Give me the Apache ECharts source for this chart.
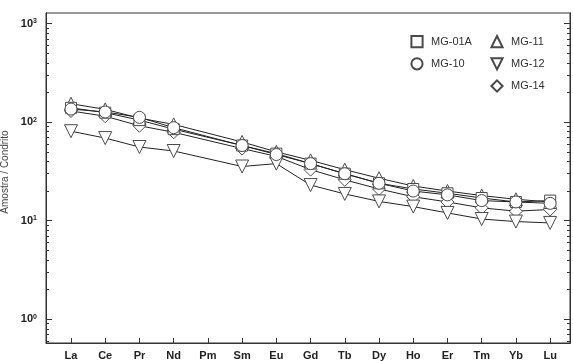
<!DOCTYPE html>
<html>
<head>
<meta charset="utf-8">
<script src="https://cdn.jsdelivr.net/npm/echarts@6/dist/echarts.min.js"></script>
<style>
html, body { margin: 0; padding: 0; background: #fff; }
#chart { width: 573px; height: 361px; }
</style>
</head>
<body>
<div id="chart"></div>
<script>
var elements = ['La', 'Ce', 'Pr', 'Nd', 'Pm', 'Sm', 'Eu', 'Gd', 'Tb', 'Dy', 'Ho', 'Er', 'Tm', 'Yb', 'Lu'];
// valores normalizados ao condrito (Pm sem dado)
var mg01a = [140, 125, 105, 85, null, 58, 48, 38, 30, 24, 21, 19, 17, 15.5, 16];
var mg10 = [136, 127, 112, 88, null, 58, 47, 38, 30, 24, 20, 18.3, 16, 15.5, 15];
var mg11 = [154, 135, 110, 95, null, 63, 50, 41, 33, 27, 22.5, 20, 18, 16.5, 15.5];
var mg12 = [81, 69, 56, 51, null, 35.5, 38, 23, 18.7, 15.7, 13.9, 12, 10.4, 9.8, 9.5];
var mg14 = [130, 115, 92, 79, null, 54, 45, 33, 26, 21, 17.5, 15.5, 13.5, 12.5, 13];
var majorTicks = [1, 10, 100, 1000];
var minorTicks = [0.6, 0.7, 0.8, 0.9, 2, 3, 4, 5, 6, 7, 8, 9, 20, 30, 40, 50, 60, 70, 80, 90,
    200, 300, 400, 500, 600, 700, 800, 900];

var myChart = echarts.init(document.getElementById('chart'));

var font = 'Liberation Sans, Arial, sans-serif';
var yMin = 0.5736, yMax = 1284;

function pts(arr) {
    var out = [];
    arr.forEach(function (v, i) { if (v != null) out.push([i, v]); });
    return out;
}

function mkSeries(name, data, symbol, size, rotate, z) {
    return {
        name: name,
        type: 'line',
        data: pts(data),
        symbol: symbol,
        symbolSize: size,
        symbolRotate: rotate,
        showAllSymbol: true,
        z: z,
        lineStyle: { color: '#222', width: 1 },
        itemStyle: { color: '#fff', borderColor: '#4a4a4a', borderWidth: 1 },
        emphasis: { disabled: true }
    };
}

function yAx(pos, ticks, len, labels) {
    return {
        type: 'log',
        position: pos,
        min: yMin,
        max: yMax,
        splitLine: { show: false },
        axisLine: { show: true, onZero: false, lineStyle: { color: '#333' } },
        axisTick: { show: true, inside: true, length: len, customValues: ticks, lineStyle: { color: '#333' } },
        axisLabel: labels ? {
            customValues: majorTicks,
            margin: 9,
            formatter: function (v) {
                return '{b|10}{e|' + Math.round(Math.log10(v)) + '}';
            },
            rich: {
                b: { fontSize: 11, fontWeight: 'bold', color: '#222', fontFamily: font, lineHeight: 12 },
                e: { fontSize: 7, fontWeight: 'bold', color: '#222', fontFamily: font, verticalAlign: 'top', lineHeight: 8 }
            }
        } : { show: false }
    };
}

var yLeft = yAx('left', majorTicks, 6, true);
yLeft.name = 'Amostra / Condrito';
yLeft.nameLocation = 'middle';
yLeft.nameGap = 35;
yLeft.nameTextStyle = { fontSize: 10, color: '#444', fontFamily: font, padding: [0, 0, 0, 12] };

var option = {
    animation: false,
    grid: { left: 46, right: 3, top: 13, bottom: 18, show: true, borderColor: '#333', borderWidth: 1, outerBoundsMode: 'none' },
    legend: [{
        data: ['MG-01A', 'MG-10'],
        orient: 'vertical',
        left: 403, top: 30,
        itemWidth: 18, itemHeight: 14, itemGap: 9,
        lineStyle: { width: 0, opacity: 0 },
        textStyle: { fontSize: 11, color: '#333', fontFamily: font },
        selectedMode: false
    }, {
        data: ['MG-11', 'MG-12', 'MG-14'],
        orient: 'vertical',
        left: 483, top: 30,
        itemWidth: 18, itemHeight: 14, itemGap: 9,
        lineStyle: { width: 0, opacity: 0 },
        textStyle: { fontSize: 11, color: '#333', fontFamily: font },
        selectedMode: false
    }],
    xAxis: {
        type: 'value',
        min: -0.73,
        max: 14.58,
        splitLine: { show: false },
        axisLine: { onZero: false, lineStyle: { color: '#333' } },
        axisTick: { inside: true, length: 5, customValues: elements.map(function (e, i) { return i; }), lineStyle: { color: '#333' } },
        axisLabel: {
            customValues: elements.map(function (e, i) { return i; }),
            formatter: function (v) { return elements[v]; },
            fontSize: 11, fontWeight: 'bold', color: '#222', fontFamily: font, margin: 7
        }
    },
    yAxis: [
        yLeft,
        yAx('left', minorTicks, 3, false),
        yAx('right', majorTicks, 6, false),
        yAx('right', minorTicks, 3, false)
    ],
    series: [
        mkSeries('MG-14', mg14, 'diamond', 13, 0, 2),
        mkSeries('MG-11', mg11, 'triangle', 13, 0, 3),
        mkSeries('MG-01A', mg01a, 'rect', 11, 0, 4),
        mkSeries('MG-12', mg12, 'triangle', 13, 180, 5),
        mkSeries('MG-10', mg10, 'circle', 12, 0, 6)
    ]
};

myChart.setOption(option);
</script>
</body>
</html>
